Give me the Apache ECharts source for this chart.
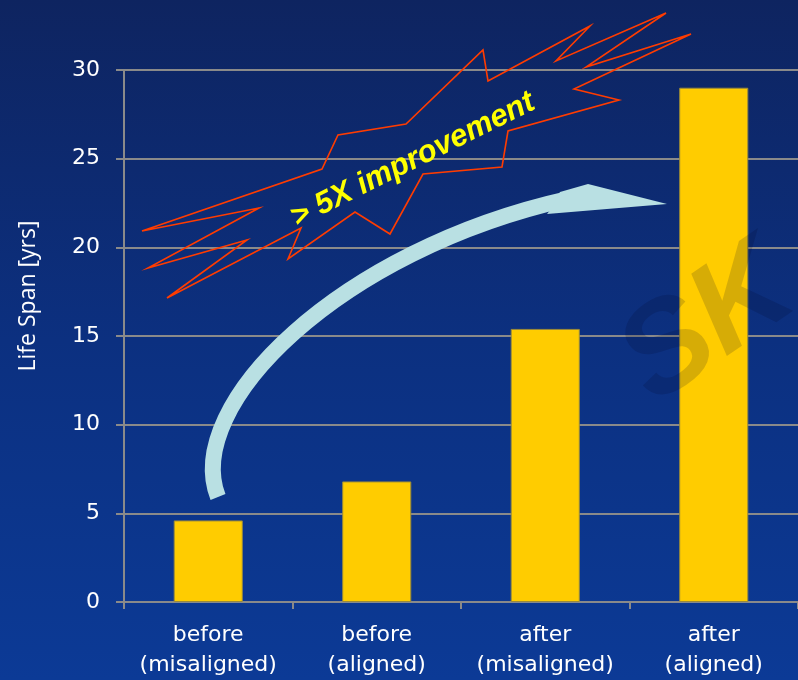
<!DOCTYPE html>
<html>
<head>
<meta charset="utf-8">
<script src="https://cdn.jsdelivr.net/npm/echarts@6/dist/echarts.min.js"></script>
<style>
  html, body { margin: 0; padding: 0; background: #0d2f7c; }
  #chart { width: 798px; height: 680px; }
</style>
</head>
<body>
<div id="chart"></div>
<script>
// Bearing life span before and after shaft alignment
const categories = ['before\n(misaligned)', 'before\n(aligned)', 'after\n(misaligned)', 'after\n(aligned)'];
const lifeSpan = [4.6, 6.8, 15.4, 29.0];
const yMin = 0;
const yMax = 30;
const yStep = 5;
const yAxisTitle = 'Life Span [yrs]';
const calloutText = '> 5X improvement';

const chart = echarts.init(document.getElementById('chart'), null, { renderer: 'canvas' });

// jagged "burst" outline behind the callout text
const burstOutline = [
  [142, 231], [322, 169], [338, 135], [406, 124], [483, 50], [488, 81],
  [590, 26], [556, 61], [666, 13], [586, 67], [691, 34], [574, 89],
  [619, 100], [508, 131], [502, 167], [423, 174], [390, 234], [355, 212],
  [288, 259], [301, 228], [167, 298], [247, 240], [148, 268], [259, 208]
];

const axisGray = '#8a8a8a';
const labelFont = 'DejaVu Sans';

chart.setOption({
  backgroundColor: {
    type: 'linear', x: 0, y: 0, x2: 0, y2: 1,
    colorStops: [
      { offset: 0, color: '#0e2460' },
      { offset: 0.5, color: '#0c3080' },
      { offset: 1, color: '#0c3a96' }
    ]
  },
  animation: false,
  grid: { left: 124, top: 70, width: 676, height: 532 },
  xAxis: {
    type: 'category',
    data: categories,
    axisLine: { lineStyle: { color: axisGray, width: 2 } },
    axisTick: { show: true, interval: 0, length: 7, lineStyle: { color: axisGray, width: 2 } },
    axisLabel: {
      interval: 0,
      color: '#ffffff', fontFamily: labelFont, fontSize: 22,
      lineHeight: 30, margin: 18
    }
  },
  yAxis: {
    type: 'value',
    min: yMin, max: yMax, interval: yStep,
    axisLine: { show: true, lineStyle: { color: axisGray, width: 2 } },
    axisTick: { show: true, length: 8, lineStyle: { color: axisGray, width: 2 } },
    splitLine: { show: true, lineStyle: { color: axisGray, width: 2 } },
    axisLabel: { color: '#ffffff', fontFamily: labelFont, fontSize: 22, margin: 24 }
  },
  series: [{
    type: 'bar',
    data: lifeSpan,
    barWidth: '41%',
    itemStyle: { color: '#ffcc00', borderColor: '#9a8a3a', borderWidth: 1 },
    z: 3
  }],
  graphic: [
    {
      // faint tilted logo in the background
      type: 'text',
      x: 708, y: 326,
      rotation: 0.6,
      style: {
        text: 'SK',
        fill: 'rgba(0,6,36,0.16)',
        font: 'italic bold 128px "Liberation Sans"',
        align: 'center',
        verticalAlign: 'middle'
      },
      z: 5
    },
    {
      type: 'text',
      x: 28, y: 296,
      rotation: Math.PI / 2,
      style: {
        text: yAxisTitle,
        fill: '#ffffff',
        font: '23px "Open Sans"',
        align: 'center',
        verticalAlign: 'middle'
      },
      z: 10
    },
    {
      type: 'polygon',
      shape: { points: burstOutline },
      style: { fill: null, stroke: '#ff3c00', lineWidth: 1.6, lineJoin: 'miter' },
      z: 10
    },
    {
      type: 'text',
      x: 413, y: 160,
      rotation: 0.46,
      style: {
        text: calloutText,
        fill: '#ffff00',
        font: 'italic bold 31px "Liberation Sans"',
        align: 'center',
        verticalAlign: 'middle'
      },
      z: 11
    },
    {
      // curved arrow shaft
      type: 'bezierCurve',
      shape: { x1: 218, y1: 497, cpx1: 182, cpy1: 405, cpx2: 340, cpy2: 250, x2: 568, y2: 199 },
      style: { fill: null, stroke: '#b9e0e3', lineWidth: 16, lineCap: 'butt' },
      z: 12
    },
    {
      // arrow head
      type: 'polygon',
      shape: { points: [[560, 192], [588, 184], [667, 204], [547, 214], [552, 208]] },
      style: { fill: '#b9e0e3' },
      z: 12
    }
  ]
});
</script>
</body>
</html>
